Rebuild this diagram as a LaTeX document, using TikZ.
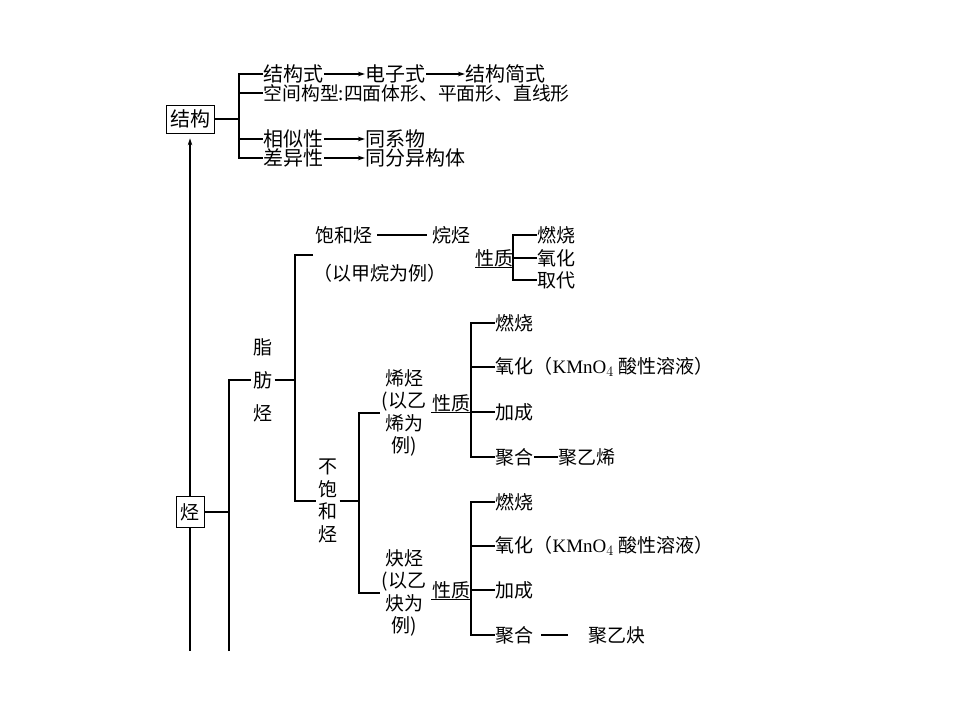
\documentclass[tikz,border=0pt]{standalone}
\usepackage{fontspec}
\setmainfont{Noto Sans CJK SC}
\newfontfamily\latserif{Liberation Serif}
\usetikzlibrary{arrows.meta}

\tikzset{
  txt/.style={inner sep=0pt, font=\fontsize{19}{22.3}\selectfont},
  toptxt/.style={inner sep=0pt, font=\fontsize{20}{22}\selectfont},
  stack/.style={inner sep=1.5pt, align=center, font=\fontsize{19}{22.5}\selectfont},
  wstack/.style={inner sep=1.5pt, align=center, font=\fontsize{19}{33}\selectfont},
  titlebox/.style={draw, line width=0.7pt, inner sep=0pt},
  arr/.style={-{Stealth[length=7pt,width=4.5pt]}},
}

\begin{document}
\begin{tikzpicture}[x=1pt,y=-1pt,line width=1.2pt]
\useasboundingbox (0,0) rectangle (960,720);

\node[titlebox, toptxt, minimum width=48pt, minimum height=28pt] (jg) at (190,119) {结构};
\coordinate (jgb) at (239,119);
\node[toptxt, anchor=west] (jgs) at (263,74) {结构式};
\node[toptxt, anchor=west] (dzs) at (365,74) {电子式};
\node[toptxt, anchor=west] (jgjs) at (465,74) {结构简式};
\node[toptxt, anchor=west, font=\fontsize{18.8}{22}\selectfont] (kjgx) at (263,93) {空间构型:四面体形、平面形、直线形};
\node[toptxt, anchor=west] (xsx) at (263,139) {相似性};
\node[toptxt, anchor=west] (txw) at (365,139) {同系物};
\node[toptxt, anchor=west] (cyx) at (263,158) {差异性};
\node[toptxt, anchor=west] (tfyg) at (365,158) {同分异构体};

\draw (jg) -- (jgb);
\draw (jgs.west) -| (jgb) |- (cyx.west);
\draw (kjgx.west) -- (kjgx.west -| jgb);
\draw (xsx.west) -- (xsx.west -| jgb);
\draw[arr] (jgs) -- (dzs);
\draw[arr] (dzs) -- (jgjs);
\draw[arr] (xsx) -- (txw);
\draw[arr] (cyx) -- (tfyg);

\node[titlebox, txt, minimum width=28pt, minimum height=31pt] (ting) at (190,512) {烃};
\coordinate (end1) at (190,651);
\coordinate (tb) at (229,512);
\coordinate (end2) at (229,651);
\draw[arr, shorten >=5pt] (ting) -- (jg);
\draw (ting) -- (end1);
\draw (ting) -- (tb);

\node[wstack] (zft) at (263,380) {脂\\肪\\烃};
\coordinate (zfb) at (295,380);
\draw (end2) |- (zft.west);
\draw (zft.east) -- (zfb);

\node[txt, anchor=west] (bht) at (315,235) {饱和烃};
\node[txt, anchor=west] (jwl) at (313,273) {（以甲烷为例）};
\node[txt, anchor=west] (wt) at (432,235) {烷烃};
\coordinate (bhb) at (313,255);
\node[stack] (bbht) at (328,501) {不\\饱\\和\\烃};
\draw (bhb) -| (zfb) |- (bbht.west);
\draw[shorten <=4pt, shorten >=5pt] (bht) -- (wt);

\node[txt, anchor=west] (xz0) at (475,258) {性质};
\coordinate (xzb0) at (513,258);
\node[txt, anchor=west] (rs0) at (537,235) {燃烧};
\node[txt, anchor=west] (yh0) at (537,258) {氧化};
\node[txt, anchor=west] (qd0) at (537,280) {取代};
\draw (rs0.west) -| (xzb0) |- (qd0.west);
\draw (yh0.west) -- (xzb0);
\draw (xz0.south west) -- (xz0.south east -| xzb0);

\coordinate (bbhb) at (359,501);
\node[stack] (xt) at (404,413) {烯烃\\(以乙\\烯为\\例)};
\node[stack] (qt) at (404,593) {炔烃\\(以乙\\炔为\\例)};
\draw (bbht.east) -- (bbhb);
\draw (xt.west) -| (bbhb) |- (qt.west);

\node[txt] (xz1) at (451,403) {性质};
\coordinate (xzb1) at (471,412);
\node[txt, anchor=west] (rs1) at (495,323) {燃烧};
\node[txt, anchor=west] (yh1) at (495,367) {氧化（{\latserif KMnO}$_4$ 酸性溶液）};
\node[txt, anchor=west] (jc1) at (495,412) {加成};
\node[txt, anchor=west] (jh1) at (495,457) {聚合};
\node[txt, anchor=west] (jyx) at (558,457) {聚乙烯};
\draw (rs1.west) -| (xzb1) |- (jh1.west);
\draw (yh1.west) -- (yh1.west -| xzb1);
\draw (jc1.west) -- (xzb1);
\draw (xz1.south west) -- (xz1.south east -| xzb1);
\draw (jh1) -- (jyx);

\node[txt] (xz2) at (451,590) {性质};
\coordinate (xzb2) at (471,590);
\node[txt, anchor=west] (rs2) at (495,502) {燃烧};
\node[txt, anchor=west] (yh2) at (495,546) {氧化（{\latserif KMnO}$_4$ 酸性溶液）};
\node[txt, anchor=west] (jc2) at (495,590) {加成};
\node[txt, anchor=west] (jh2) at (495,635) {聚合};
\node[txt, anchor=west] (jyq) at (588,635) {聚乙炔};
\draw (rs2.west) -| (xzb2) |- (jh2.west);
\draw (yh2.west) -- (yh2.west -| xzb2);
\draw (jc2.west) -- (xzb2);
\draw (xz2.south west) -- (xz2.south east -| xzb2);
\draw[shorten <=7pt, shorten >=20pt] (jh2) -- (jyq);

\end{tikzpicture}
\end{document}
